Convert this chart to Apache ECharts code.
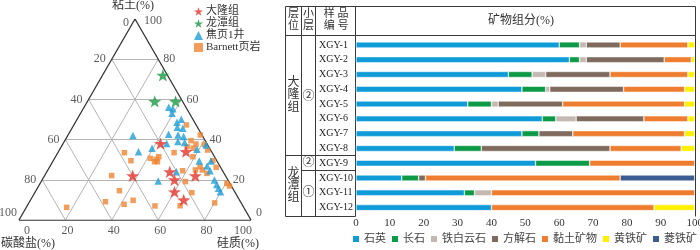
<!DOCTYPE html>
<html><head><meta charset="utf-8">
<script src="https://cdn.jsdelivr.net/npm/echarts@6/dist/echarts.min.js"></script>
<style>html,body{margin:0;padding:0;background:#fff}#c{width:700px;height:250px}</style>
</head><body><div id="c"></div>
<script>
// ---------- Ternary data: clay % and silica % (carbonate = 100 - clay - silica)
const dalongClay   = [38,34,22,24,20,22,14,10];
const dalongSilica = [42,55,38,53,57,65,60,66];
const longtanClay   = [72,59,59];
const longtanSilica = [26,29,38];
const jy1Clay   = [42,34,35.7,19.4,38.1,42.6,56.1,55.4,53.1,50.1,48.6,46.1,45.6,42.3,41.5,39,38.6,35.2,37.3,29.4,26.9,29.4,24.5,19.9,17.7,15.8,14.1,24];
const jy1Silica = [28.1,34.5,39.5,50.3,44.6,43.2,36.5,38.6,39.4,44.9,43.8,45.2,47.8,47.4,50.2,49,52.1,59.1,62,63,67.6,68,70.1,74.3,76.4,78.1,79.8,55.8];
const barnettClay   = [6.3,9.1,14.6,7.8,9.8,7,7.1,8.5,22.1,33.5,29.5,30.7,29,29,31.5,30.2,33.5,47.3,42.3,39.5,37.8,35.7,37.6,36.5,34.8,31.5,29.5,26.5,24.9,24.9,26.2,24.5,13.6,18.2,16.9,19.1,23.2];
const barnettSilica = [17.4,32.7,36,41.4,44.3,55.1,65.9,80.1,28.9,28.7,33.5,41.2,43.9,45.2,44.5,44,50.1,48.5,57,54.4,57.4,57.2,61.1,54.2,63.9,59.2,68.8,64.8,63.6,66.6,71.9,58.3,67.7,80.5,82.3,62.2,69.4];
const ternaryTicks = [0,20,40,60,80,100];
const gridLevels = [20,40,60,80];
const ternaryNames = ['大隆组','龙潭组','焦页1井','Barnett页岩'];

// ---------- Bar data (mineral composition, %)
const samples   = ['XGY-1','XGY-2','XGY-3','XGY-4','XGY-5','XGY-6','XGY-7','XGY-8','XGY-9','XGY-10','XGY-11','XGY-12'];
const minerals  = ['石英','长石','铁白云石','方解石','黏土矿物','黄铁矿','菱铁矿'];
const quartz    = [60,63,45,49,33,55,49,29,53,13.5,32,40];
const feldspar  = [6,3,7,7,7,4,5,8,16,5,3,0];
const dolomite  = [2,2,4,1.2,2,6,0,0,0,0,5,0];
const calcite   = [10,23,19,21.8,19,20,10,38,0,2,0,0];
const clayMin   = [20,8,23,18,36,13,33,21,31,57.5,60,48];
const pyrite    = [2,1,2,3,3,2,3,4,0,0,0,12];
const siderite  = [0,0,0,0,0,0,0,0,0,22,0,0];
const xTicks    = [0,10,20,30,40,50,60,70,80,90,100];

const mineralColors = ['#0e9bd7','#0c9a46','#c4b8b0','#7f6a5e','#ef7d2f','#fff000','#3b5d91'];
const mineralData = [quartz,feldspar,dolomite,calcite,clayMin,pyrite,siderite];

const SERIF = "'Liberation Serif','Noto Sans CJK SC'";

// ternary -> cartesian (x in 0..100, y = clay 0..100)
const toXY = (c, s) => [s + c / 2, c];
const pts = (C, S) => C.map((c, i) => toXY(c, S[i]));

const gridLines = [];
gridLevels.forEach(t => {
  gridLines.push({coords: [toXY(t, 0), toXY(t, 100 - t)]});
  gridLines.push({coords: [toXY(0, t), toXY(100 - t, t)]});
  gridLines.push({coords: [toXY(0, 100 - t), toXY(100 - t, 0)]});
});
const edges = [
  {coords: [toXY(0, 0), toXY(0, 100)]},
  {coords: [toXY(0, 100), toXY(100, 0)]},
  {coords: [toXY(100, 0), toXY(0, 0)]}
];

const leftLbl = ternaryTicks.map(k => ({value: toXY(100 - k, 0).concat([k]),
  label: {position: 'left', distance: k === 100 ? 2 : 6, offset: k === 100 ? [0, -7] : (k === 0 ? [0, 4] : [0, 0])}}));
const rightLbl = ternaryTicks.map(c => ({value: toXY(c, 100 - c).concat([c]),
  label: {position: 'right', distance: c === 100 ? 9 : 5, offset: c === 0 ? [0, -7] : (c === 100 ? [0, 2] : [0, 0])}}));
const bottomLbl = ternaryTicks.map(s => ({value: toXY(0, s).concat([s]),
  label: {position: 'bottom', distance: 5, offset: s === 0 ? [8, 0] : (s === 100 ? [-8, 0] : [2, 0])}}));

const STAR = 'path://M0,-10 L2.35,-3.24 L9.51,-3.09 L3.8,1.24 L5.88,8.09 L0,4 L-5.88,8.09 L-3.8,1.24 L-9.51,-3.09 L-2.35,-3.24 Z';

const labelSeries = (data) => ({
  type: 'scatter', xAxisIndex: 0, yAxisIndex: 0, symbolSize: 0, silent: true, z: 5,
  data: data,
  label: {show: true, formatter: p => String(p.value[2]), fontFamily: SERIF, fontSize: 12, color: '#333'}
});

const series = [
  {type: 'lines', coordinateSystem: 'cartesian2d', xAxisIndex: 0, yAxisIndex: 0, silent: true, z: 1,
   data: gridLines, lineStyle: {color: '#b4b4b4', width: 1, opacity: 1}},
  {type: 'lines', coordinateSystem: 'cartesian2d', xAxisIndex: 0, yAxisIndex: 0, silent: true, z: 2,
   data: edges, lineStyle: {color: '#333', width: 1.3, opacity: 1}},
  labelSeries(leftLbl), labelSeries(rightLbl), labelSeries(bottomLbl),
  {name: ternaryNames[3], type: 'scatter', xAxisIndex: 0, yAxisIndex: 0, symbol: 'rect', symbolSize: 5.5, z: 3,
   data: pts(barnettClay, barnettSilica), itemStyle: {color: '#ef8532'}},
  {name: ternaryNames[2], type: 'scatter', xAxisIndex: 0, yAxisIndex: 0, symbol: 'triangle', symbolSize: 7.5, z: 4,
   data: pts(jy1Clay, jy1Silica), itemStyle: {color: '#1e9fd8'}},
  {name: ternaryNames[0], type: 'scatter', xAxisIndex: 0, yAxisIndex: 0, symbol: STAR, symbolKeepAspect: true, symbolSize: 13, z: 6,
   data: pts(dalongClay, dalongSilica), itemStyle: {color: '#e5332a'}},
  {name: ternaryNames[1], type: 'scatter', xAxisIndex: 0, yAxisIndex: 0, symbol: STAR, symbolKeepAspect: true, symbolSize: 13, z: 6,
   data: pts(longtanClay, longtanSilica), itemStyle: {color: '#1b9a44'}}
];

minerals.forEach((m, i) => {
  series.push({
    name: m, type: 'bar', stack: 'min', xAxisIndex: 1, yAxisIndex: 1, barWidth: 6,
    itemStyle: {color: mineralColors[i], borderColor: '#fff', borderWidth: 0.5},
    data: mineralData[i].map(v => v === 0 ? null : v)
  });
});

const L = 285.5, C1 = 301.5, C2 = 315.5, C3 = 355.5, R = 695.5, T = 6.5, H = 35.5, B = 216.5;
const lineG = (x1, y1, x2, y2) => ({type: 'line', shape: {x1, y1, x2, y2}, style: {stroke: '#3a3a3a', lineWidth: 1}, silent: true});
const textG = (x, y, t, fs, extra) => ({type: 'text', x, y, silent: true,
  style: Object.assign({text: t, fontSize: fs, fontFamily: SERIF, fill: '#333', align: 'center', verticalAlign: 'middle'}, extra || {})});

const graphic = [
  lineG(L, T, R, T), lineG(L, H, R, H), lineG(L, B, C3, B),
  lineG(L, T, L, B), lineG(C1, T, C1, B), lineG(C2, T, C2, B), lineG(C3, T, C3, B), lineG(R, T, R, B),
  lineG(L, 155.5, C3, 155.5), lineG(C1, 170.5, C3, 170.5),
  textG(293.5, 20.5, '层\n位', 11, {lineHeight: 12}),
  textG(308.5, 20.5, '小\n层', 11, {lineHeight: 12}),
  textG(336, 20.5, '样 品\n编 号', 11, {lineHeight: 12}),
  textG(521, 21, '矿物组分(%)', 12),
  textG(293.5, 95, '大\n隆\n组', 12, {lineHeight: 12.5}),
  textG(308.5, 97, '②', 12),
  textG(308.5, 163, '②', 12),
  textG(293.5, 185.5, '龙\n潭\n组', 12, {lineHeight: 12}),
  textG(308.5, 193, '①', 12),
  textG(133, 6, '粘土(%)', 12),
  textG(28, 244, '碳酸盐(%)', 12),
  textG(238, 244, '硅质(%)', 12)
];

const chart = echarts.init(document.getElementById('c'), null, {renderer: 'canvas'});
chart.setOption({
  animation: false,
  backgroundColor: '#fff',
  grid: [
    {left: 19, top: 19, width: 232, height: 201, containLabel: false, outerBoundsMode: 'none'},
    {left: 356, top: 37.5, width: 338.7, height: 177.5, containLabel: false, outerBoundsMode: 'none'}
  ],
  xAxis: [
    {gridIndex: 0, type: 'value', min: 0, max: 100, show: false},
    {gridIndex: 1, type: 'value', min: 0, max: 100, interval: 10,
     axisLine: {show: false}, axisTick: {show: false}, splitLine: {show: false},
     axisLabel: {margin: 3, fontSize: 11, fontFamily: SERIF, color: '#333', showMinLabel: true, showMaxLabel: true,
       formatter: v => xTicks.indexOf(v) >= 0 ? String(v) : ''}}
  ],
  yAxis: [
    {gridIndex: 0, type: 'value', min: 0, max: 100, show: false},
    {gridIndex: 1, type: 'category', data: samples, inverse: true,
     axisLine: {show: false}, axisTick: {show: false}, splitLine: {show: false},
     axisLabel: {align: 'left', margin: 37, fontSize: 10, fontFamily: SERIF, color: '#222'}}
  ],
  legend: [
    {data: ternaryNames, orient: 'vertical', left: 194, top: 6, padding: 0, itemWidth: 9, itemHeight: 9, itemGap: 1,
     textStyle: {fontSize: 11, fontFamily: SERIF, color: '#333', padding: [0, 0, 0, -2]}, selectedMode: false},
    {data: minerals, orient: 'horizontal', left: 353, top: 233.5, padding: 0, itemWidth: 6, itemHeight: 6, itemGap: 6,
     icon: 'rect', itemStyle: {borderWidth: 0},
     textStyle: {fontSize: 11, fontFamily: SERIF, color: '#444'}, selectedMode: false}
  ],
  graphic: graphic,
  series: series
});
</script></body></html>
